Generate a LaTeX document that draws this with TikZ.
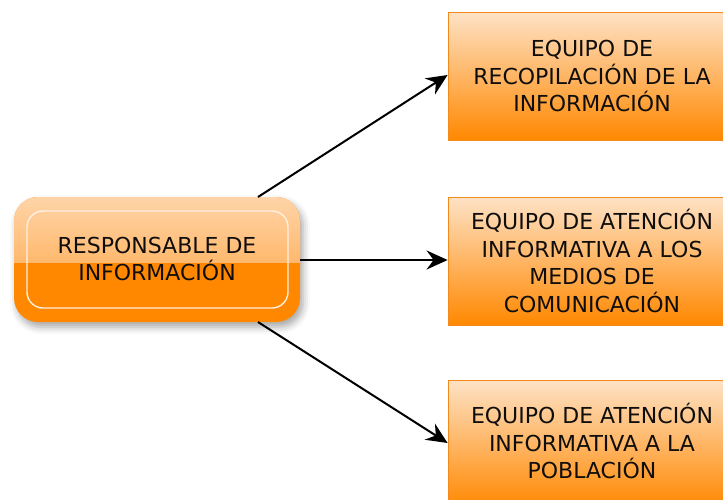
\documentclass[tikz,border=0pt]{standalone}
\usepackage{fontspec}
\setmainfont{DejaVu Sans}
\usetikzlibrary{arrows.meta,shadows.blur}
\definecolor{txt}{HTML}{100E0C}
\definecolor{orA}{HTML}{FF8800}
\definecolor{orL}{HTML}{FEE2C6}
\definecolor{orM}{HTML}{FFA038}
\definecolor{orT}{HTML}{FFD4A8}
\definecolor{orEdge}{HTML}{F28A1E}
\tikzset{
  team/.style={draw=orEdge, line width=0.8pt, top color=orL, bottom color=orA,
    minimum width=288pt, minimum height=128pt, align=center, text=txt,
    font=\fontsize{22}{27.5}\selectfont, inner sep=0pt},
  teamtext/.style={align=center, text=txt, font=\fontsize{22}{27.5}\selectfont, inner sep=0pt},
  conn/.style={-{Stealth[length=21pt,width=19pt,inset=7pt]}, line width=2pt, black},
}
\begin{document}
\begin{tikzpicture}[x=1pt,y=-1pt]
\useasboundingbox (0,0) rectangle (723,499);
\clip (0,0) rectangle (723,499);
% right boxes
\node[team] (b1) at (592,76) {EQUIPO DE\\RECOPILACIÓN DE LA\\INFORMACIÓN};
\node[team] (b2) at (592,261) {EQUIPO DE ATENCIÓN\\INFORMATIVA A LOS\\MEDIOS DE\\COMUNICACIÓN};
\node[team] (b3) at (592,444) {};
\node[teamtext] (b3t) at (592,441) {EQUIPO DE ATENCIÓN\\INFORMATIVA A LA\\POBLACIÓN};
% left node
\fill[orA, rounded corners=24pt, blur shadow={shadow xshift=3pt, shadow yshift=-5pt, shadow blur radius=7pt, shadow opacity=35}]
  (14,197) rectangle (300,322);
\begin{scope}
  \clip (0,197) rectangle (723,262);
  \shade[rounded corners=24pt, top color=orT, bottom color=orM] (14,197) rectangle (300,322);
\end{scope}
\draw[draw=orL!50!white, line width=1.4pt, rounded corners=16pt] (27,211) rectangle (288,308);
\node[teamtext, font=\fontsize{22}{27}\selectfont, minimum width=286pt, minimum height=125pt] (resp) at (157,258.5) {RESPONSABLE DE\\INFORMACIÓN};
% connectors
\coordinate (s1) at (258,197);
\coordinate (s3) at (258,322);
\draw[conn] (s1) -- (b1.west |- 0,75);
\draw[conn] (resp.east |- 0,260) -- (b2.west |- 0,260);
\draw[conn] (s3) -- (b3.west |- 0,443);
\end{tikzpicture}
\end{document}
